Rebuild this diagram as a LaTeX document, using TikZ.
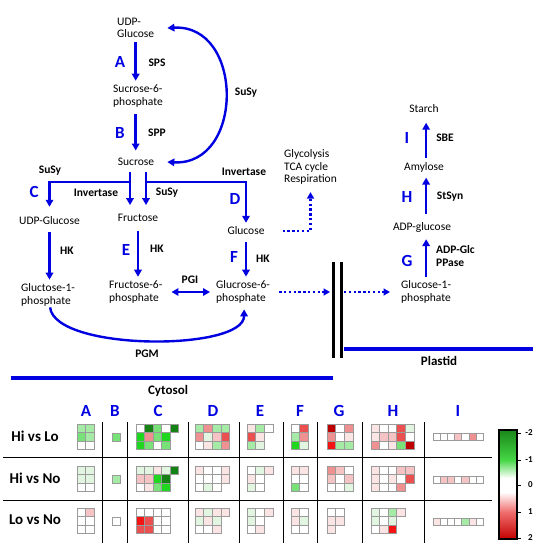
\documentclass[tikz,border=0pt]{standalone}
\usepackage{fontspec}
\setmainfont{Carlito}
\usetikzlibrary{arrows.meta}
\definecolor{mblue}{RGB}{0,0,225}
\definecolor{cellgray}{RGB}{155,155,155}
\definecolor{hdg}{RGB}{20,130,20}
\definecolor{hbg}{RGB}{30,215,30}
\definecolor{hmg}{RGB}{120,225,120}
\definecolor{hlg}{RGB}{165,235,165}
\definecolor{hvlg}{RGB}{225,245,225}
\definecolor{hw}{RGB}{255,255,255}
\definecolor{hvlp}{RGB}{250,228,228}
\definecolor{hlp}{RGB}{245,195,195}
\definecolor{hpk}{RGB}{240,145,145}
\definecolor{hrd}{RGB}{235,80,80}
\definecolor{hbr}{RGB}{245,20,20}
\definecolor{hdr}{RGB}{190,0,0}
\definecolor{cbGtwo}{RGB}{25,135,25}
\definecolor{cbGone}{RGB}{70,215,70}
\definecolor{cbRone}{RGB}{240,110,110}
\definecolor{cbRtwo}{RGB}{195,0,0}
\newcommand{\hmblock}[5]{%
  \foreach \hc/\hr/\hcol in {#5}{%
    \path[fill=\hcol,draw=cellgray,line width=0.7pt] ({#1+\hc*#3},{#2+\hr*#4}) rectangle ++(#3,#4);
  }%
}
\begin{document}
\begin{tikzpicture}[x=1pt,y=-1pt,
  met/.style={font=\fontsize{11.5}{12.5}\selectfont, inner sep=1pt, align=left},
  enz/.style={font=\bfseries\fontsize{11.5}{13}\selectfont, inner sep=1pt, align=left},
  big/.style={font=\bfseries\fontsize{17}{17}\selectfont, text=mblue, inner sep=0pt},
  rowlab/.style={font=\bfseries\fontsize{15}{15}\selectfont, inner sep=0pt},
  comp/.style={font=\bfseries\fontsize{13}{13}\selectfont, inner sep=0pt},
  ticklab/.style={font=\bfseries\fontsize{9}{9}\selectfont, inner sep=0pt, anchor=east},
  arr/.style={draw=mblue, line width=2.4pt, -{Triangle[length=7pt,width=7.5pt]}},
  arrtwo/.style={draw=mblue, line width=2.4pt, {Triangle[length=7pt,width=7.5pt]}-{Triangle[length=7pt,width=7.5pt]}},
  bline/.style={draw=mblue, line width=2.4pt},
  dotarr/.style={draw=mblue, line width=2.4pt, dash pattern=on 2.4pt off 2.4pt, -{Triangle[length=6.5pt,width=7pt]}},
  memb/.style={draw=black, line width=3pt},
  grid/.style={draw=black, line width=1pt}]
\useasboundingbox (0,0) rectangle (541,552);

% ---------------- metabolites ----------------
\node[met, anchor=west] (udpg1) at (116,28) {UDP-\\Glucose};
\node[met, anchor=west] (s6p) at (112,96) {Sucrose-6-\\phosphate};
\node[met] (suc) at (136,162) {Sucrose};
\node[met] (udpg2) at (49.5,221) {UDP-Glucose};
\node[met] (fru) at (138,218) {Fructose};
\node[met] (glc) at (246,231) {Glucose};
\node[met, anchor=west] (g1p) at (20,295) {Gluctose-1-\\phosphate};
\node[met, anchor=west] (f6p) at (108,292) {Fructose-6-\\phosphate};
\node[met, anchor=west] (g6p) at (215,292) {Glucrose-6-\\phosphate};
\node[met, anchor=west] (gly) at (283,167) {Glycolysis\\TCA cycle\\Respiration};
\node[met, anchor=west] (pg1p) at (400,292) {Glucose-1-\\phosphate};
\node[met] (adpg) at (422,227) {ADP-glucose};
\node[met] (amy) at (424,167) {Amylose};
\node[met] (starch) at (424,109) {Starch};

% ---------------- enzyme labels ----------------
\node[big] (lA) at (120,62) {A};
\node[enz] (sps) at (157,63) {SPS};
\node[big] (lB) at (120,133) {B};
\node[enz] (spp) at (157,133) {SPP};
\node[enz] (susyarc) at (246,93) {SuSy};
\node[enz] (susyl) at (50,171) {SuSy};
\node[big] (lC) at (34,192) {C};
\node[enz] (invl) at (96,193) {Invertase};
\node[enz] (susym) at (167,193) {SuSy};
\node[enz] (invr) at (244,172) {Invertase};
\node[big] (lD) at (235,199) {D};
\node[enz] (hka) at (67,251) {HK};
\node[big] (lE) at (126,250) {E};
\node[enz] (hkb) at (157,249) {HK};
\node[big] (lF) at (234,257) {F};
\node[enz] (hkc) at (263,259) {HK};
\node[enz] (pgi) at (190,280) {PGI};
\node[enz] (pgm) at (147,354) {PGM};
\node[big] (lG) at (407,261) {G};
\node[enz, anchor=west] (adpglc) at (435,256.5) {ADP-Glc\\PPase};
\node[big] (lH) at (407,197) {H};
\node[enz] (stsyn) at (450,197) {StSyn};
\node[big] (lI) at (407,138) {I};
\node[enz] (sbe) at (445,138) {SBE};
\node[comp] (plastid) at (439,361) {Plastid};
\node[comp] (cytosol) at (168,391) {Cytosol};

% ---------------- connectors ----------------
\draw[arr, shorten <=3pt, shorten >=3pt] (udpg1.south) -- (udpg1.south |- s6p.north);
\draw[arr, shorten <=5.5pt, shorten >=6.5pt] (udpg1.south |- s6p.south) -- (udpg1.south |- suc.north);
\draw[arrtwo] ([xshift=12pt]udpg1.east) .. controls +(77,-4) and +(77,4) .. ([xshift=12pt]suc.east);

\coordinate (jl) at (130,182);
\coordinate (jr) at (146,182);
\draw[arr, shorten <=5pt, shorten >=8pt] ([xshift=-6pt]suc.south) -- ([xshift=-6pt]suc.south |- fru.north);
\draw[arr, shorten <=5pt, shorten >=8pt] ([xshift=10pt]suc.south) -- ([xshift=10pt]suc.south |- fru.north);
\draw[arr, shorten >=9pt] (jl) -| (udpg2.north);
\draw[arr, shorten >=3pt] (jr) -| (glc.north);

\draw[arr, shorten <=6pt, shorten >=3pt] (udpg2.south) -- (udpg2.south |- g1p.north);
\draw[arr, shorten <=8pt, shorten >=3pt] (fru.south) -- (fru.south |- f6p.north);
\draw[arr, shorten <=6pt, shorten >=3pt] (glc.south) -- (glc.south |- g6p.north);
\draw[arrtwo, shorten <=8pt, shorten >=5pt] (f6p.east) -- (g6p.west);
\draw[arr] ([xshift=2pt]g1p.south) .. controls +(5,44) and +(0,42) .. ([xshift=1pt,yshift=-5pt]g6p.south);

\draw[dotarr, shorten <=17pt, shorten >=6.5pt] (glc.east) -| (gly.south);
\coordinate (mone) at (330,292);
\coordinate (mtwo) at (344,292);
\draw[dotarr, shorten <=8pt] (g6p.east) -- (mone);
\draw[dotarr, shorten >=10pt] (mtwo) -- (pg1p.west);

\draw[arr, shorten <=3pt, shorten >=6pt] (pg1p.north) -- (pg1p.north |- adpg.south);
\draw[arr, shorten <=7pt, shorten >=4.5pt] (pg1p.north |- adpg.north) -- (pg1p.north |- amy.south);
\draw[arr, shorten <=3pt, shorten >=8.5pt] (pg1p.north |- amy.north) -- (pg1p.north |- starch.south);

% membranes and compartments
\draw[memb] (333,262) -- (333,358);
\draw[memb] (341,262) -- (341,358);
\draw[draw=mblue, line width=4pt] (11,378) -- (333,378);
\draw[draw=mblue, line width=4pt] (344,349) -- (533,349);

% ---------------- heat map ----------------
\node[big] (hA) at (86,411) {A};
\node[big] (hB) at (115,411) {B};
\node[big] (hC) at (158,411) {C};
\node[big] (hD) at (213,411) {D};
\node[big] (hE) at (260,411) {E};
\node[big] (hF) at (300,411) {F};
\node[big] (hG) at (339,411) {G};
\node[big] (hH) at (393,411) {H};
\node[big] (hI) at (458,411) {I};
\node[rowlab] (rone) at (35,436) {Hi vs Lo};
\node[rowlab] (rtwo) at (35,478) {Hi vs No};
\node[rowlab] (rthree) at (35,520) {Lo vs No};

\foreach \gx in {102,127,188,239,283,317,362,424} \draw[grid] (\gx,422) -- (\gx,543);
\draw[grid] (3,457) -- (492,457);
\draw[grid] (3,500) -- (492,500);

% A
\hmblock{77}{424}{8.5}{8.5}{0/0/hlg,1/0/hlg,0/1/hmg,1/1/hlg,0/2/hw,1/2/hw}
\hmblock{77}{466}{8.5}{8.5}{0/0/hvlg,1/0/hvlg,0/1/hvlg,1/1/hvlg,0/2/hw,1/2/hw}
\hmblock{77}{508}{8.5}{8.5}{0/0/hw,1/0/hlp,0/1/hw,1/1/hw,0/2/hw,1/2/hw}
% B
\hmblock{112}{433}{8}{8}{0/0/hmg}
\hmblock{112}{475}{8}{8}{0/0/hlg}
\hmblock{112}{517}{8}{8}{0/0/hw}
% C
\hmblock{136}{424}{8.5}{8.5}{0/0/hw,1/0/hdg,2/0/hmg,3/0/hw,4/0/hdg,0/1/hbg,1/1/hpk,2/1/hmg,3/1/hbg,0/2/hbg,1/2/hmg,2/2/hw,3/2/hmg}
\hmblock{136}{466}{8.5}{8.5}{0/0/hvlg,1/0/hvlg,2/0/hvlp,3/0/hvlg,4/0/hdg,0/1/hlp,1/1/hlp,2/1/hbg,3/1/hdg,0/2/hw,1/2/hvlp,2/2/hmg,3/2/hbg}
\hmblock{136}{508}{8.5}{8.5}{0/0/hw,1/0/hw,2/0/hw,3/0/hw,0/1/hbr,1/1/hrd,2/1/hw,3/1/hw,0/2/hrd,1/2/hrd,2/2/hw,3/2/hw}
% D
\hmblock{195}{424}{8.7}{8.5}{0/0/hlg,1/0/hpk,2/0/hlg,3/0/hlg,0/1/hpk,1/1/hvlg,2/1/hlp,3/1/hrd,0/2/hw,1/2/hvlp,2/2/hlg,3/2/hpk}
\hmblock{195}{466}{8.7}{8.5}{0/0/hvlp,1/0/hw,2/0/hw,3/0/hvlp,0/1/hw,1/1/hw,2/1/hw,3/1/hvlp,0/2/hw,1/2/hvlg,2/2/hw}
\hmblock{195}{508}{8.7}{8.5}{0/0/hvlp,1/0/hvlg,2/0/hvlp,3/0/hvlp,0/1/hvlg,1/1/hvlp,2/1/hvlg,0/2/hw,1/2/hw,2/2/hvlp}
% E
\hmblock{247}{424}{8.7}{8.5}{0/0/hvlp,1/0/hlg,2/0/hw,0/1/hrd,1/1/hvlp,0/2/hlg,1/2/hvlg}
\hmblock{247}{466}{8.7}{8.5}{0/0/hw,1/0/hvlg,2/0/hvlp,0/1/hvlp,1/1/hw,0/2/hvlg,1/2/hw}
\hmblock{247}{508}{8.7}{8.5}{0/0/hvlg,1/0/hw,2/0/hvlp,0/1/hvlg,1/1/hw,0/2/hw,1/2/hvlp}
% F
\hmblock{291}{424}{8.5}{8.5}{0/0/hw,1/0/hrd,0/1/hlg,1/1/hpk,0/2/hbg,1/2/hvlg}
\hmblock{291}{466}{8.5}{8.5}{0/0/hvlp,1/0/hvlp,0/1/hw,1/1/hw,0/2/hmg,1/2/hw}
\hmblock{291}{508}{8.5}{8.5}{0/0/hvlp,1/0/hw,0/1/hvlp,1/1/hvlg,0/2/hw,1/2/hw}
% G
\hmblock{327}{424}{8.7}{8.5}{0/0/hdr,1/0/hw,2/0/hpk,0/1/hpk,1/1/hw,2/1/hvlp,0/2/hbr,1/2/hlg,2/2/hlg}
\hmblock{327}{466}{8.7}{8.5}{0/0/hpk,1/0/hlp,2/0/hw,0/1/hlp,1/1/hw,2/1/hlp,0/2/hw,1/2/hw,2/2/hvlg}
\hmblock{327}{508}{8.7}{8.5}{0/0/hw,1/0/hw,0/1/hvlp,1/1/hvlp,0/2/hvlp}
% H
\hmblock{371}{424}{8.6}{8.5}{0/0/hvlp,1/0/hw,2/0/hw,3/0/hrd,4/0/hvlg,0/1/hvlp,1/1/hlp,2/1/hlp,3/1/hrd,4/1/hw,0/2/hpk,1/2/hw,2/2/hvlp,3/2/hmg,4/2/hdr}
\hmblock{371}{466}{8.6}{8.5}{0/0/hvlp,1/0/hw,2/0/hw,3/0/hlp,4/0/hlp,0/1/hvlp,1/1/hw,2/1/hvlp,3/1/hw,4/1/hrd,0/2/hvlp,1/2/hw,2/2/hw,3/2/hpk}
\hmblock{371}{508}{8.6}{8.5}{0/0/hvlg,1/0/hw,2/0/hlg,3/0/hvlp,0/1/hvlg,1/1/hw,2/1/hvlg,0/2/hw,1/2/hvlp,2/2/hbr}
% I
\hmblock{433}{433}{7.2}{7}{0/0/hw,1/0/hw,2/0/hw,3/0/hlp,4/0/hw,5/0/hpk,6/0/hw}
\hmblock{433}{476}{7.2}{7}{0/0/hw,1/0/hlp,2/0/hlp,3/0/hw,4/0/hlp,5/0/hw,6/0/hw}
\hmblock{433}{518}{7.2}{7}{0/0/hvlp,1/0/hw,2/0/hw,3/0/hw,4/0/hlg,5/0/hvlp,6/0/hw}

% colour bar
\shade[top color=cbGtwo, bottom color=cbGone] (499,430) rectangle (517,460);
\shade[top color=cbGone, bottom color=white] (499,460) rectangle (517,478);
\fill[white] (499,478) rectangle (517,492);
\shade[top color=white, bottom color=cbRone] (499,492) rectangle (517,512);
\shade[top color=cbRone, bottom color=cbRtwo] (499,512) rectangle (517,539);
\draw[black, line width=1.1pt] (499,430) rectangle (517,539);
\foreach \ty/\tl/\tn in {433/-2/ta,460/-1/tb,485/0/tc,512/1/td,538/2/te}{
  \draw[black, line width=0.8pt] (517,\ty) -- (521,\ty);
  \node[ticklab] (\tn) at (533,\ty) {\tl};
}
\end{tikzpicture}
\end{document}
